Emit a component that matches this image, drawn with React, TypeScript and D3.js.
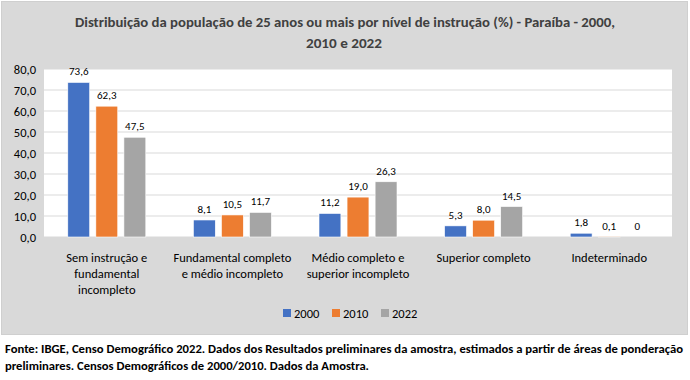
import React from "react";
import * as d3 from "d3";

const categories: string[][] = [
  ["Sem instrução e", "fundamental", "incompleto"],
  ["Fundamental completo", "e médio incompleto"],
  ["Médio completo e", "superior incompleto"],
  ["Superior completo"],
  ["Indeterminado"],
];
const seriesNames = ["2000", "2010", "2022"];
const values2000 = [73.6, 8.1, 11.2, 5.3, 1.8];
const values2010 = [62.3, 10.5, 19.0, 8.0, 0.1];
const values2022 = [47.5, 11.7, 26.3, 14.5, 0];
const yTicks = [0, 10, 20, 30, 40, 50, 60, 70, 80];
const colors = ["#4472C4", "#ED7D31", "#A5A5A5"];

const FONT = "Carlito, Calibri, 'Liberation Sans', Arial, sans-serif";

export default function App() {
  const W = 690, H = 380;
  const plot = { left: 44, right: 672, top: 69, bottom: 237 };
  const series = [values2000, values2010, values2022];
  const y = d3.scaleLinear().domain([0, 80]).range([plot.bottom, plot.top]);
  const x0 = d3.scaleBand<number>().domain(d3.range(categories.length)).range([plot.left, plot.right]).paddingInner(0).paddingOuter(0);
  const groupW = 78;
  const x1 = d3.scaleBand<number>().domain([0, 1, 2]).range([0, groupW]).paddingInner(0.22);
  const fmt = (v: number) => (v === 0 ? "0" : d3.format(".1f")(v).replace(".", ","));

  return (
    <svg width={W} height={H} style={{ position: "absolute", left: 0, top: 0 }} fontFamily={FONT}>
      <rect x={0} y={0} width={W} height={H} fill="#ffffff" />
      <rect x={1.5} y={1.5} width={686} height={333} fill="#D9D9D9" stroke="#cfcfcf" />
      <text x={345} y={27} textAnchor="middle" fontSize={14} fontWeight="bold" fill="#404040" textLength={540} lengthAdjust="spacingAndGlyphs">
        Distribuição da população de 25 anos ou mais por nível de instrução (%) - Paraíba - 2000,
      </text>
      <text x={344} y={48} textAnchor="middle" fontSize={14} fontWeight="bold" fill="#404040" textLength={76} lengthAdjust="spacingAndGlyphs">
        2010 e 2022
      </text>
      <rect x={plot.left} y={plot.top} width={plot.right - plot.left} height={plot.bottom - plot.top} fill="#ffffff" />
      {yTicks.map((t) => (
        <g key={t}>
          <line x1={plot.left} x2={plot.right} y1={y(t)} y2={y(t)} stroke="#D9D9D9" strokeWidth={1} />
          <text x={36} y={y(t) + 4.5} textAnchor="end" fontSize={12.5} fill="#000">
            {t.toFixed(1).replace(".", ",")}
          </text>
        </g>
      ))}
      {categories.map((cat, i) => {
        const cx = (x0(i) as number) + x0.bandwidth() / 2;
        const gx = cx - groupW / 2;
        return (
          <g key={i}>
            {series.map((vals, s) => {
              const bx = gx + (x1(s) as number);
              const bw = x1.bandwidth();
              const v = vals[i];
              return (
                <g key={s}>
                  <rect x={bx} y={y(v)} width={bw} height={plot.bottom - y(v)} fill={colors[s]} stroke="#ffffff" strokeWidth={0.6} />
                  <text x={bx + bw / 2} y={y(v) - 7} textAnchor="middle" fontSize={11} fill="#000">
                    {fmt(v)}
                  </text>
                </g>
              );
            })}
            {cat.map((line, li) => (
              <text key={li} x={cx} y={262 + li * 16} textAnchor="middle" fontSize={12.5} fill="#000">
                {line}
              </text>
            ))}
          </g>
        );
      })}
      {seriesNames.map((n, s) => {
        const lx = 283 + s * 49;
        return (
          <g key={n}>
            <rect x={lx} y={309} width={8} height={8} fill={colors[s]} />
            <text x={lx + 11} y={317.5} fontSize={12.5} fill="#000">
              {n}
            </text>
          </g>
        );
      })}
      <text x={5} y={353} fontSize={12.5} fontWeight="bold" fill="#000" textLength={678} lengthAdjust="spacingAndGlyphs">
        Fonte: IBGE, Censo Demográfico 2022. Dados dos Resultados preliminares da amostra, estimados a partir de áreas de ponderação
      </text>
      <text x={5} y={370} fontSize={12.5} fontWeight="bold" fill="#000" textLength={364} lengthAdjust="spacingAndGlyphs">
        preliminares. Censos Demográficos de 2000/2010. Dados da Amostra.
      </text>
    </svg>
  );
}
